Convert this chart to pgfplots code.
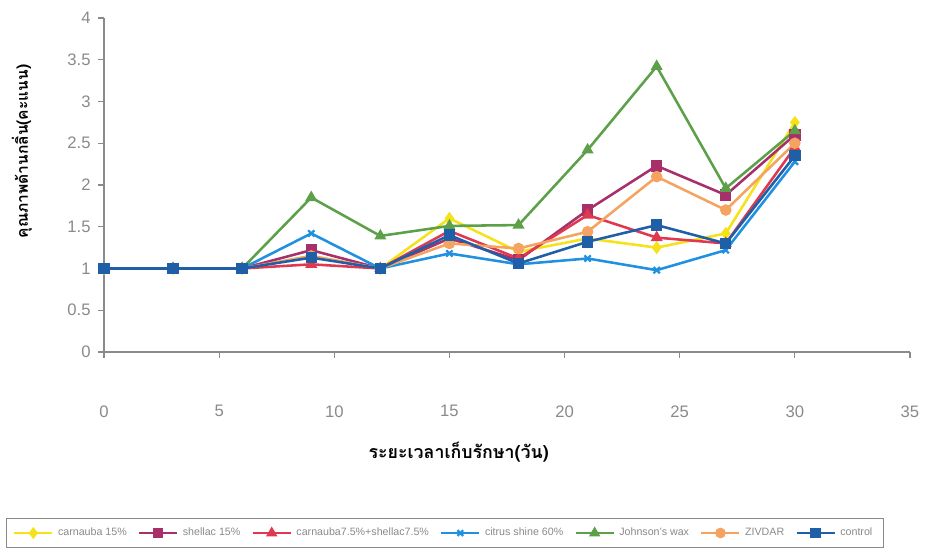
\documentclass[border=0pt]{standalone}
\usepackage{pgfplots}
\pgfplotsset{compat=1.18}
\usepackage{fontspec}
\setmainfont{Liberation Sans}
\newfontfamily\thaifont[Script=Thai]{Loma}
\definecolor{cYel}{HTML}{F5E21A}
\definecolor{cMag}{HTML}{A8306A}
\definecolor{cRed}{HTML}{E0384E}
\definecolor{cCya}{HTML}{2090E0}
\definecolor{cGrn}{HTML}{5DA04A}
\definecolor{cOra}{HTML}{F4A460}
\definecolor{cBlu}{HTML}{1F5FA8}
\definecolor{axgray}{HTML}{8A8A8A}
\begin{document}
\begin{tikzpicture}
\useasboundingbox (-46.8pt,-90.45pt) rectangle (371.7pt,158.4pt);
\begin{axis}[
    at={(0,0)}, anchor=south west,
    scale only axis,
    width=362.7pt, height=150.3pt,
    xmin=0, xmax=35, ymin=0, ymax=4,
    xtick={0,5,...,35}, ytick={0,0.5,...,4},
    axis x line*=bottom, axis y line*=left,
    axis line style={axgray, line width=0.6pt},
    tick style={axgray, line width=0.5pt},
    tick align=outside,
    major tick length=2.5pt,
    x tick label style={yshift=-18pt},
    every tick label/.append style={font=\fontsize{7.5}{9}\selectfont, text=axgray},
    /pgf/number format/assume math mode=true,
    xlabel={\thaifont\bfseries ระยะเวลาเก็บรักษา(วัน)},
    ylabel={\thaifont\bfseries คุณภาพด้านกลิ่น(คะแนน)},
    xlabel style={font=\fontsize{8}{10}\selectfont, at={(axis description cs:0.44,-0.30)}, anchor=center},
    ylabel style={font=\fontsize{7}{9}\selectfont, at={(axis description cs:-0.102,0.6)}, anchor=center},
    every axis plot/.append style={line width=1.15pt, mark size=2pt},
    legend columns=7,
    legend style={at={(0.423,-0.542)}, anchor=center, draw=axgray,
        font=\fontsize{4.8}{6}\selectfont, text=axgray,
        /tikz/every even column/.append style={column sep=3pt},
        inner ysep=2pt, inner xsep=3pt},
    legend image post style={mark size=1.8pt},
    clip=false,
]
\addplot[cYel, mark=diamond*, mark options={fill=cYel}] coordinates {
 (0,1) (3,1) (6,1) (9,1.15) (12,1) (15,1.6) (18,1.2) (21,1.36) (24,1.25) (27,1.42) (30,2.75)};
\addplot[cMag, mark=square*, mark options={fill=cMag}] coordinates {
 (0,1) (3,1) (6,1) (9,1.22) (12,1) (15,1.36) (18,1.1) (21,1.70) (24,2.23) (27,1.88) (30,2.6)};
\addplot[cRed, mark=triangle*, mark options={fill=cRed}] coordinates {
 (0,1) (3,1) (6,1) (9,1.05) (12,1) (15,1.45) (18,1.12) (21,1.64) (24,1.37) (27,1.3) (30,2.45)};
\addplot[cCya, mark=x, mark options={line width=1pt}] coordinates {
 (0,1) (3,1) (6,1) (9,1.42) (12,1) (15,1.18) (18,1.05) (21,1.12) (24,0.98) (27,1.22) (30,2.28)};
\addplot[cGrn, mark=triangle*, mark options={fill=cGrn}] coordinates {
 (0,1) (3,1) (6,1) (9,1.85) (12,1.39) (15,1.51) (18,1.52) (21,2.42) (24,3.42) (27,1.96) (30,2.65)};
\addplot[cOra, mark=*, mark options={fill=cOra}] coordinates {
 (0,1) (3,1) (6,1) (9,1.15) (12,1) (15,1.30) (18,1.24) (21,1.44) (24,2.10) (27,1.70) (30,2.5)};
\addplot[cBlu, mark=square*, mark options={fill=cBlu}] coordinates {
 (0,1) (3,1) (6,1) (9,1.13) (12,1) (15,1.40) (18,1.06) (21,1.32) (24,1.52) (27,1.30) (30,2.35)};
\legend{carnauba 15\%, shellac 15\%, carnauba7.5\%+shellac7.5\%, citrus shine 60\%, Johnson's wax, ZIVDAR, control}
\end{axis}
\end{tikzpicture}
\end{document}
